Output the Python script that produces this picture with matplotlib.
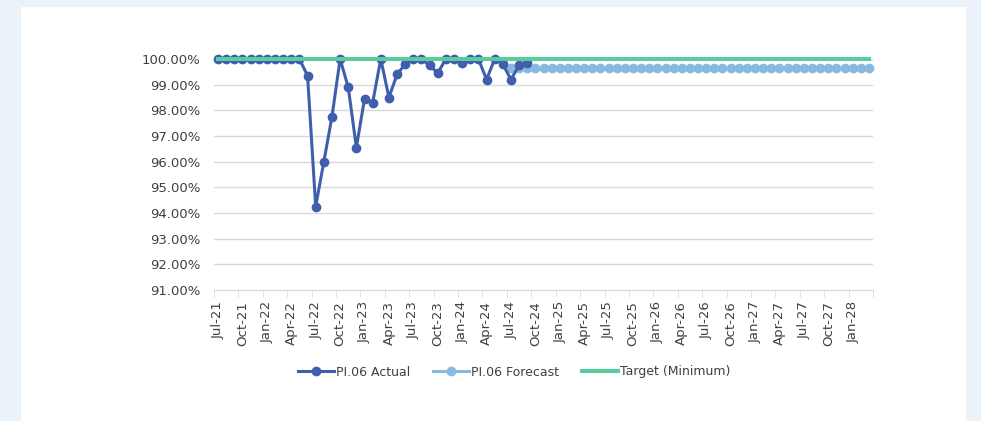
import numpy as np
import matplotlib.pyplot as plt
import matplotlib.patches as patches

##Data
months = ['Jul', 'Aug', 'Sep', 'Oct', 'Nov', 'Dec', 'Jan', 'Feb', 'Mar', 'Apr', 'May', 'Jun']
labels = []
for i in range(81):
    m = (6 + i) % 12
    y = 21 + (6 + i) // 12
    labels.append('%s-%02d' % (months[(m - 6) % 12], y))

actual = [100, 100, 100, 100, 100, 100, 100, 100, 100, 100, 100,
          99.35, 94.25, 96.0, 97.75, 100, 98.9, 96.55, 98.45, 98.3, 100,
          98.5, 99.4, 99.8, 100, 100, 99.75, 99.45, 100, 100, 99.85,
          100, 100, 99.2, 100, 99.8, 99.2, 99.75, 99.85]
forecast_start = 36
forecast = [99.65] * (81 - forecast_start)
target = [100] * 81

c_actual = '#3F5EAB'
c_fore = '#88BADF'
c_target = '#58CC9B'

fig = plt.figure(figsize=(9.81, 4.21), dpi=100)
fig.patch.set_facecolor('#EBF2FA')
fig.patches.append(patches.Rectangle((21 / 981, 0), (966 - 21) / 981, 1 - 7 / 421,
                                     transform=fig.transFigure, facecolor='white',
                                     edgecolor='none', zorder=-10))

ax = fig.add_axes([214 / 981, 1 - 290 / 421, (873 - 214) / 981, (290 - 59) / 421])
ax.set_facecolor('none')

x_act = np.arange(len(actual))
x_fore = np.arange(forecast_start, 81)
x_all = np.arange(81)

ax.plot(x_all, target, color=c_target, lw=2.9, zorder=5, clip_on=False, label='Target (Minimum)')
ax.plot(x_fore, forecast, color=c_fore, lw=2.2, marker='o', ms=6, zorder=2, clip_on=False, label='PI.06 Forecast')
ax.plot(x_act, actual, color=c_actual, lw=2.2, marker='o', ms=6, zorder=4, clip_on=False, label='PI.06 Actual')

ax.set_xlim(-0.5, 80.5)
ax.set_ylim(91, 100)
ax.set_yticks(np.arange(91, 100.1, 1))
ax.set_yticklabels(['%.2f%%' % v for v in np.arange(91, 100.1, 1)])
ax.grid(axis='y', color='#D9D9D9', lw=1)
ax.set_axisbelow(True)

ax.set_xticks(np.arange(0, 81, 3))
ax.set_xticklabels([labels[i] for i in range(0, 81, 3)], rotation=90)
ax.set_xticks(np.arange(-0.5, 81, 3), minor=True)
ax.tick_params(axis='x', which='major', length=0, pad=8)
ax.tick_params(axis='x', which='minor', length=5, color='#D9D9D9')
ax.tick_params(axis='y', length=0, pad=10)
for lab in ax.get_xticklabels() + ax.get_yticklabels():
    lab.set_fontsize(9.5)
    lab.set_color('#404040')

for s in ['top', 'right', 'left']:
    ax.spines[s].set_visible(False)
ax.spines['bottom'].set_color('#D9D9D9')

h, l = ax.get_legend_handles_labels()
order = [2, 1, 0]
fig.legend([h[i] for i in order], [l[i] for i in order], loc='center',
           bbox_to_anchor=(514 / 981, 1 - 372 / 421), ncol=3, frameon=False,
           fontsize=9, handlelength=2.9, columnspacing=1.8, handletextpad=0.15,
           labelcolor='#404040')

plt.savefig('out.png', dpi=100)
